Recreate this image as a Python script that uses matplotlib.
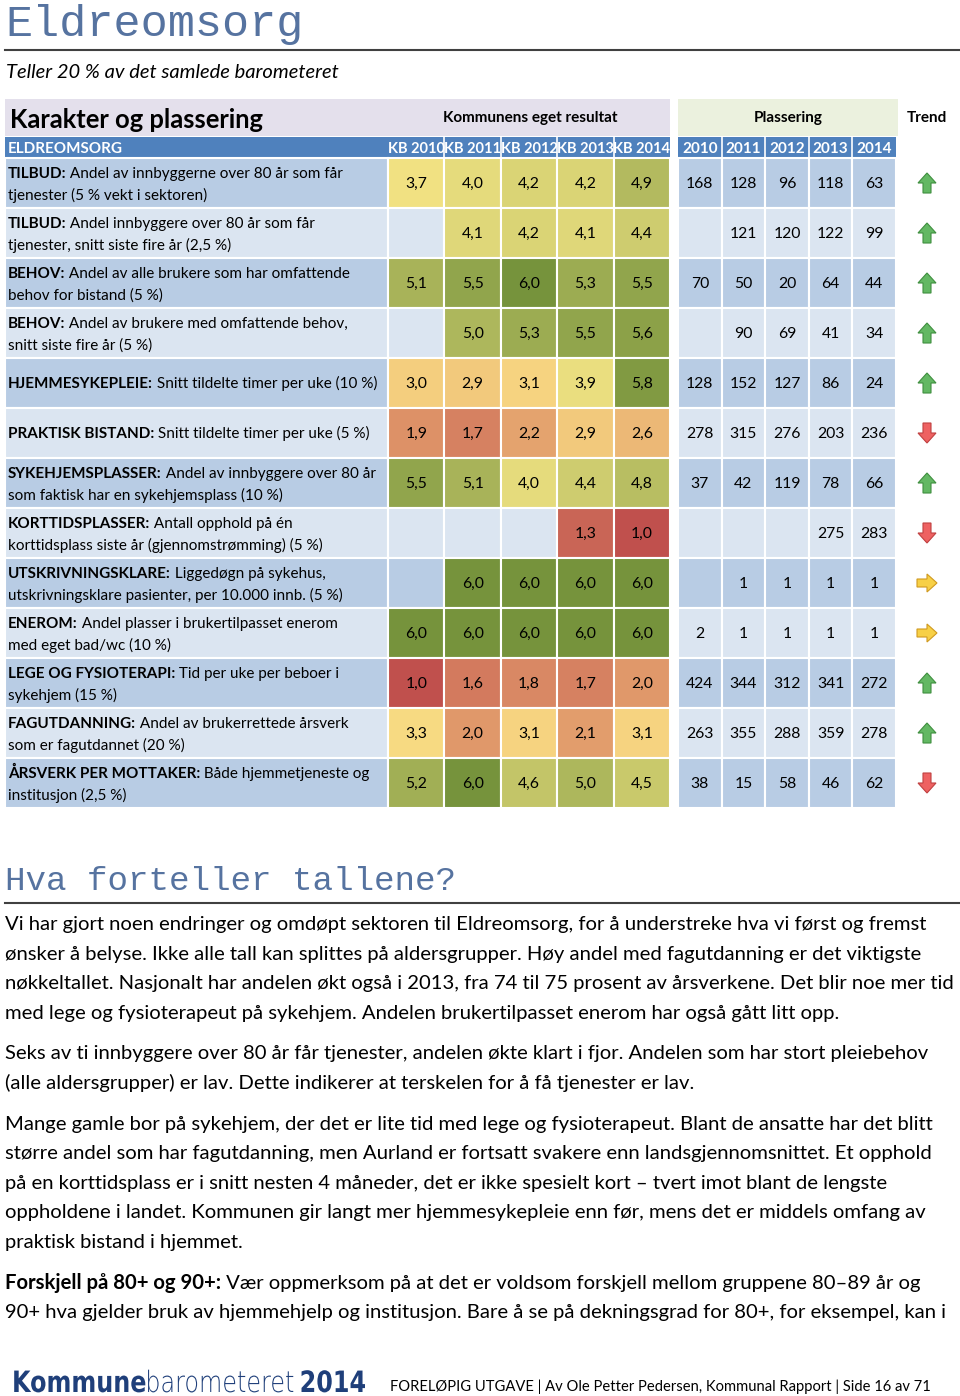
import numpy as np
import matplotlib
matplotlib.use("Agg")
import matplotlib.pyplot as plt
from matplotlib import font_manager
from matplotlib.colors import LinearSegmentedColormap
from matplotlib.patches import Rectangle, Polygon, PathPatch
from matplotlib.textpath import TextPath
from matplotlib.font_manager import FontProperties
from matplotlib.transforms import Affine2D

# ---- data ----
years = ["2010", "2011", "2012", "2013", "2014"]
kb_headers = ["KB " + y for y in years]

row_titles = ["TILBUD:", "TILBUD:", "BEHOV:", "BEHOV:", "HJEMMESYKEPLEIE:",
              "PRAKTISK BISTAND:", "SYKEHJEMSPLASSER:", "KORTTIDSPLASSER:",
              "UTSKRIVNINGSKLARE:", "ENEROM:", "LEGE OG FYSIOTERAPI:",
              "FAGUTDANNING:", "ÅRSVERK PER MOTTAKER:"]
row_texts = [
    ["Andel av innbyggerne over 80 år som får", "tjenester (5 % vekt i sektoren)"],
    ["Andel innbyggere over 80 år som får", "tjenester, snitt siste fire år (2,5 %)"],
    ["Andel av alle brukere som har omfattende", "behov for bistand (5 %)"],
    ["Andel av brukere med omfattende behov,", "snitt siste fire år (5 %)"],
    ["Snitt tildelte timer per uke (10 %)"],
    ["Snitt tildelte timer per uke (5 %)"],
    ["Andel av innbyggere over 80 år", "som faktisk har en sykehjemsplass (10 %)"],
    ["Antall opphold på én", "korttidsplass siste år (gjennomstrømming) (5 %)"],
    ["Liggedøgn på sykehus,", "utskrivningsklare pasienter, per 10.000 innb. (5 %)"],
    ["Andel plasser i brukertilpasset enerom", "med eget bad/wc (10 %)"],
    ["Tid per uke per beboer i", "sykehjem (15 %)"],
    ["Andel av brukerrettede årsverk", "som er fagutdannet (20 %)"],
    ["Både hjemmetjeneste og", "institusjon (2,5 %)"],
]
scores = [
    [3.7, 4.0, 4.2, 4.2, 4.9],
    [None, 4.1, 4.2, 4.1, 4.4],
    [5.1, 5.5, 6.0, 5.3, 5.5],
    [None, 5.0, 5.3, 5.5, 5.6],
    [3.0, 2.9, 3.1, 3.9, 5.8],
    [1.9, 1.7, 2.2, 2.9, 2.6],
    [5.5, 5.1, 4.0, 4.4, 4.8],
    [None, None, None, 1.3, 1.0],
    [None, 6.0, 6.0, 6.0, 6.0],
    [6.0, 6.0, 6.0, 6.0, 6.0],
    [1.0, 1.6, 1.8, 1.7, 2.0],
    [3.3, 2.0, 3.1, 2.1, 3.1],
    [5.2, 6.0, 4.6, 5.0, 4.5],
]
ranks = [
    [168, 128, 96, 118, 63],
    [None, 121, 120, 122, 99],
    [70, 50, 20, 64, 44],
    [None, 90, 69, 41, 34],
    [128, 152, 127, 86, 24],
    [278, 315, 276, 203, 236],
    [37, 42, 119, 78, 66],
    [None, None, None, 275, 283],
    [None, 1, 1, 1, 1],
    [2, 1, 1, 1, 1],
    [424, 344, 312, 341, 272],
    [263, 355, 288, 359, 278],
    [38, 15, 58, 46, 62],
]
trends = ["up", "up", "up", "up", "up", "down", "up", "down",
          "flat", "flat", "up", "up", "down"]

paragraphs = [
    [[("Vi har gjort noen endringer og omdøpt sektoren til Eldreomsorg, for å understreke hva vi først og fremst", "normal")],
     [("ønsker å belyse. Ikke alle tall kan splittes på aldersgrupper. Høy andel med fagutdanning er det viktigste", "normal")],
     [("nøkkeltallet. Nasjonalt har andelen økt også i 2013, fra 74 til 75 prosent av årsverkene. Det blir noe mer tid", "normal")],
     [("med lege og fysioterapeut på sykehjem. Andelen brukertilpasset enerom har også gått litt opp.", "normal")]],
    [[("Seks av ti innbyggere over 80 år får tjenester, andelen økte klart i fjor. Andelen som har stort pleiebehov", "normal")],
     [("(alle aldersgrupper) er lav. Dette indikerer at terskelen for å få tjenester er lav.", "normal")]],
    [[("Mange gamle bor på sykehjem, der det er lite tid med lege og fysioterapeut. Blant de ansatte har det blitt", "normal")],
     [("større andel som har fagutdanning, men Aurland er fortsatt svakere enn landsgjennomsnittet. Et opphold", "normal")],
     [("på en korttidsplass er i snitt nesten 4 måneder, det er ikke spesielt kort – tvert imot blant de lengste", "normal")],
     [("oppholdene i landet. Kommunen gir langt mer hjemmesykepleie enn før, mens det er middels omfang av", "normal")],
     [("praktisk bistand i hjemmet.", "normal")]],
    [[("Forskjell på 80+ og 90+:", "bold"), (" Vær oppmerksom på at det er voldsom forskjell mellom gruppene 80–89 år og", "normal")],
     [("90+ hva gjelder bruk av hjemmehjelp og institusjon. Bare å se på dekningsgrad for 80+, for eksempel, kan i", "normal")]],
]

brand_parts = [("Kommune", "heavy"), ("barometeret", "light"), ("2014", "heavy")]
footer_text = "FORELØPIG UTGAVE | Av Ole Petter Pedersen, Kommunal Rapport | Side 16 av 71"

# ---- style ----
FONT = "Lato"
MONO = "Liberation Mono"
installed = {f.name for f in font_manager.fontManager.ttflist}
NARROW = "Liberation Sans Narrow" if "Liberation Sans Narrow" in installed else FONT
BLUE_HDR = "#4f81bd"
ROW_DARK = "#b8cce4"
ROW_LIGHT = "#dbe5f1"
BRAND = "#1f3f7a"
score_cmap = LinearSegmentedColormap.from_list(
    "score", [(0.0, "#c0504d"), (0.2, "#e0986a"), (0.44, "#f8d982"),
              (0.56, "#f0e282"), (1.0, "#76933c")])

fig = plt.figure(figsize=(9.6, 13.96), dpi=100)
ax = fig.add_axes([0, 0, 1, 1])
ax.set_xlim(0, 960)
ax.set_ylim(1396, 0)
ax.axis("off")


def rich(x, y, parts, size, color="black", family=FONT):
    prev = None
    for txt, weight in parts:
        if prev is None:
            prev = ax.text(x, y, txt, fontsize=size, fontweight=weight,
                           family=family, color=color, va="baseline", ha="left")
        else:
            prev = ax.annotate(txt, xy=(1, y), xycoords=(prev, "data"),
                               fontsize=size, fontweight=weight, family=family,
                               color=color, va="baseline", ha="left")
    return prev


# title
ax.text(5, 36, "Eldreomsorg", family=MONO, fontsize=32.5, color="#5673a0",
        va="baseline")
ax.plot([5, 960], [50, 50], color="#404040", lw=1.5)
ax.text(6, 78, "Teller 20 % av det samlede barometeret", family=FONT,
        style="italic", fontsize=14.5, va="baseline")

# table geometry
label_x0, label_x1 = 5, 388
kb_edges = np.linspace(388, 670, 6)
pl_edges = np.linspace(678, 896, 6)
trend_x = 927
row_top0, row_h = 158, 50
n_rows = len(row_titles)
LBL = 11.0

# header bands
ax.add_patch(Rectangle((5, 99), 665, 37, color="#e4e0ec", lw=0))
ax.add_patch(Rectangle((678, 99), 220, 37, color="#ebf1de", lw=0))
ax.text(10, 128, "Karakter og plassering", family=FONT, fontweight="bold",
        fontsize=18.4, va="baseline")
ax.text(530, 122, "Kommunens eget resultat", family=FONT, fontweight="bold",
        fontsize=11, ha="center", va="baseline")
ax.text(788, 122, "Plassering", family=FONT, fontweight="bold",
        fontsize=11, ha="center", va="baseline")
ax.text(927, 122, "Trend", family=FONT, fontweight="bold",
        fontsize=11, ha="center", va="baseline")

ax.add_patch(Rectangle((5, 137), 665, 21, color=BLUE_HDR, lw=0))
ax.add_patch(Rectangle((678, 137), 218, 21, color=BLUE_HDR, lw=0))
ax.text(8, 153, "ELDREOMSORG", family=FONT, fontweight="bold", fontsize=11,
        color="white", va="baseline")
for j, lab in enumerate(kb_headers):
    ax.text((kb_edges[j] + kb_edges[j + 1]) / 2, 153, lab, family=FONT,
            fontweight="bold", fontsize=10.5, color="white", ha="center",
            va="baseline")
for j, lab in enumerate(years):
    ax.text((pl_edges[j] + pl_edges[j + 1]) / 2, 153, lab, family=FONT,
            fontweight="bold", fontsize=11, color="white", ha="center",
            va="baseline")
for xe in list(kb_edges[1:-1]) + list(pl_edges[1:-1]):
    ax.plot([xe, xe], [137, 158], color="white", lw=1.2)

# arrow shapes (unit templates, placed at the trend column)
up_shape = np.array([[0, -10], [9, 0], [4, 0], [4, 10], [-4, 10],
                     [-4, 0], [-9, 0]])
arrow_shapes = {
    "up": (up_shape, "#63b863", "#3f8f3f"),
    "down": (up_shape * [1, -1], "#ee6262", "#c04040"),
    "flat": (up_shape[:, ::-1] * [-1, 1], "#f7d046", "#d09a20"),
}

for i in range(n_rows):
    top = row_top0 + i * row_h
    yc = top + row_h / 2
    bg = ROW_DARK if i % 2 == 0 else ROW_LIGHT
    # label cell
    ax.add_patch(Rectangle((label_x0, top), label_x1 - label_x0, row_h,
                           facecolor=bg, edgecolor="white", lw=1.5))
    lines = row_texts[i]
    if len(lines) == 1:
        rich(8, yc + 5, [(row_titles[i], "bold"), (" " + lines[0], "normal")], LBL)
    else:
        rich(8, yc - 5, [(row_titles[i], "bold"), (" " + lines[0], "normal")], LBL)
        rich(8, yc + 17, [(lines[1], "normal")], LBL)
    # score cells
    for j in range(5):
        v = scores[i][j]
        fc = bg if v is None else score_cmap((v - 1) / 5)
        ax.add_patch(Rectangle((kb_edges[j], top), kb_edges[j + 1] - kb_edges[j],
                               row_h, facecolor=fc, edgecolor="white", lw=1.5))
        if v is not None:
            ax.text((kb_edges[j] + kb_edges[j + 1]) / 2, yc + 5,
                    f"{v:.1f}".replace(".", ","), family=FONT, fontsize=11.3,
                    ha="center", va="baseline")
    # rank cells
    for j in range(5):
        r = ranks[i][j]
        ax.add_patch(Rectangle((pl_edges[j], top), pl_edges[j + 1] - pl_edges[j],
                               row_h, facecolor=bg, edgecolor="white", lw=1.5))
        if r is not None:
            ax.text((pl_edges[j] + pl_edges[j + 1]) / 2, yc + 5, str(r),
                    family=FONT, fontsize=11.3, ha="center", va="baseline")
    shape, fc, ec = arrow_shapes[trends[i]]
    ax.add_patch(Polygon(shape + [trend_x, yc], closed=True, facecolor=fc,
                         edgecolor=ec, lw=0.8))

# commentary
ax.text(5, 890, "Hva forteller tallene?", family=MONO, fontsize=24.7,
        color="#5673a0", va="baseline")
ax.plot([5, 960], [903, 903], color="#404040", lw=1.5)

y = 930
line_gap = 29.6
for para in paragraphs:
    for line in para:
        rich(5, y, line, 14.6)
        y += line_gap
    y += 11.0

# footer: condensed brand logo built from text paths
brand_size = 30
gaps = [0, 0, 8]
paths = [TextPath((0, 0), s, size=brand_size,
                  prop=FontProperties(family="DejaVu Sans", weight=w))
         for s, w in brand_parts]
widths = [p.get_extents().x1 for p in paths]
natural = sum(widths) + sum(gaps)
sx = (365 - 12) / natural
x = 12
for p, w, g in zip(paths, widths, gaps):
    x += g * sx
    tr = Affine2D().scale(sx, -0.98).translate(x, 1392) + ax.transData
    ax.add_patch(PathPatch(p, transform=tr, facecolor=BRAND, lw=0))
    x += w * sx

ax.text(390, 1391, footer_text, family=NARROW,
        fontsize=10.6 if NARROW == FONT else 12, va="baseline")

fig.savefig("out.png", dpi=100)
